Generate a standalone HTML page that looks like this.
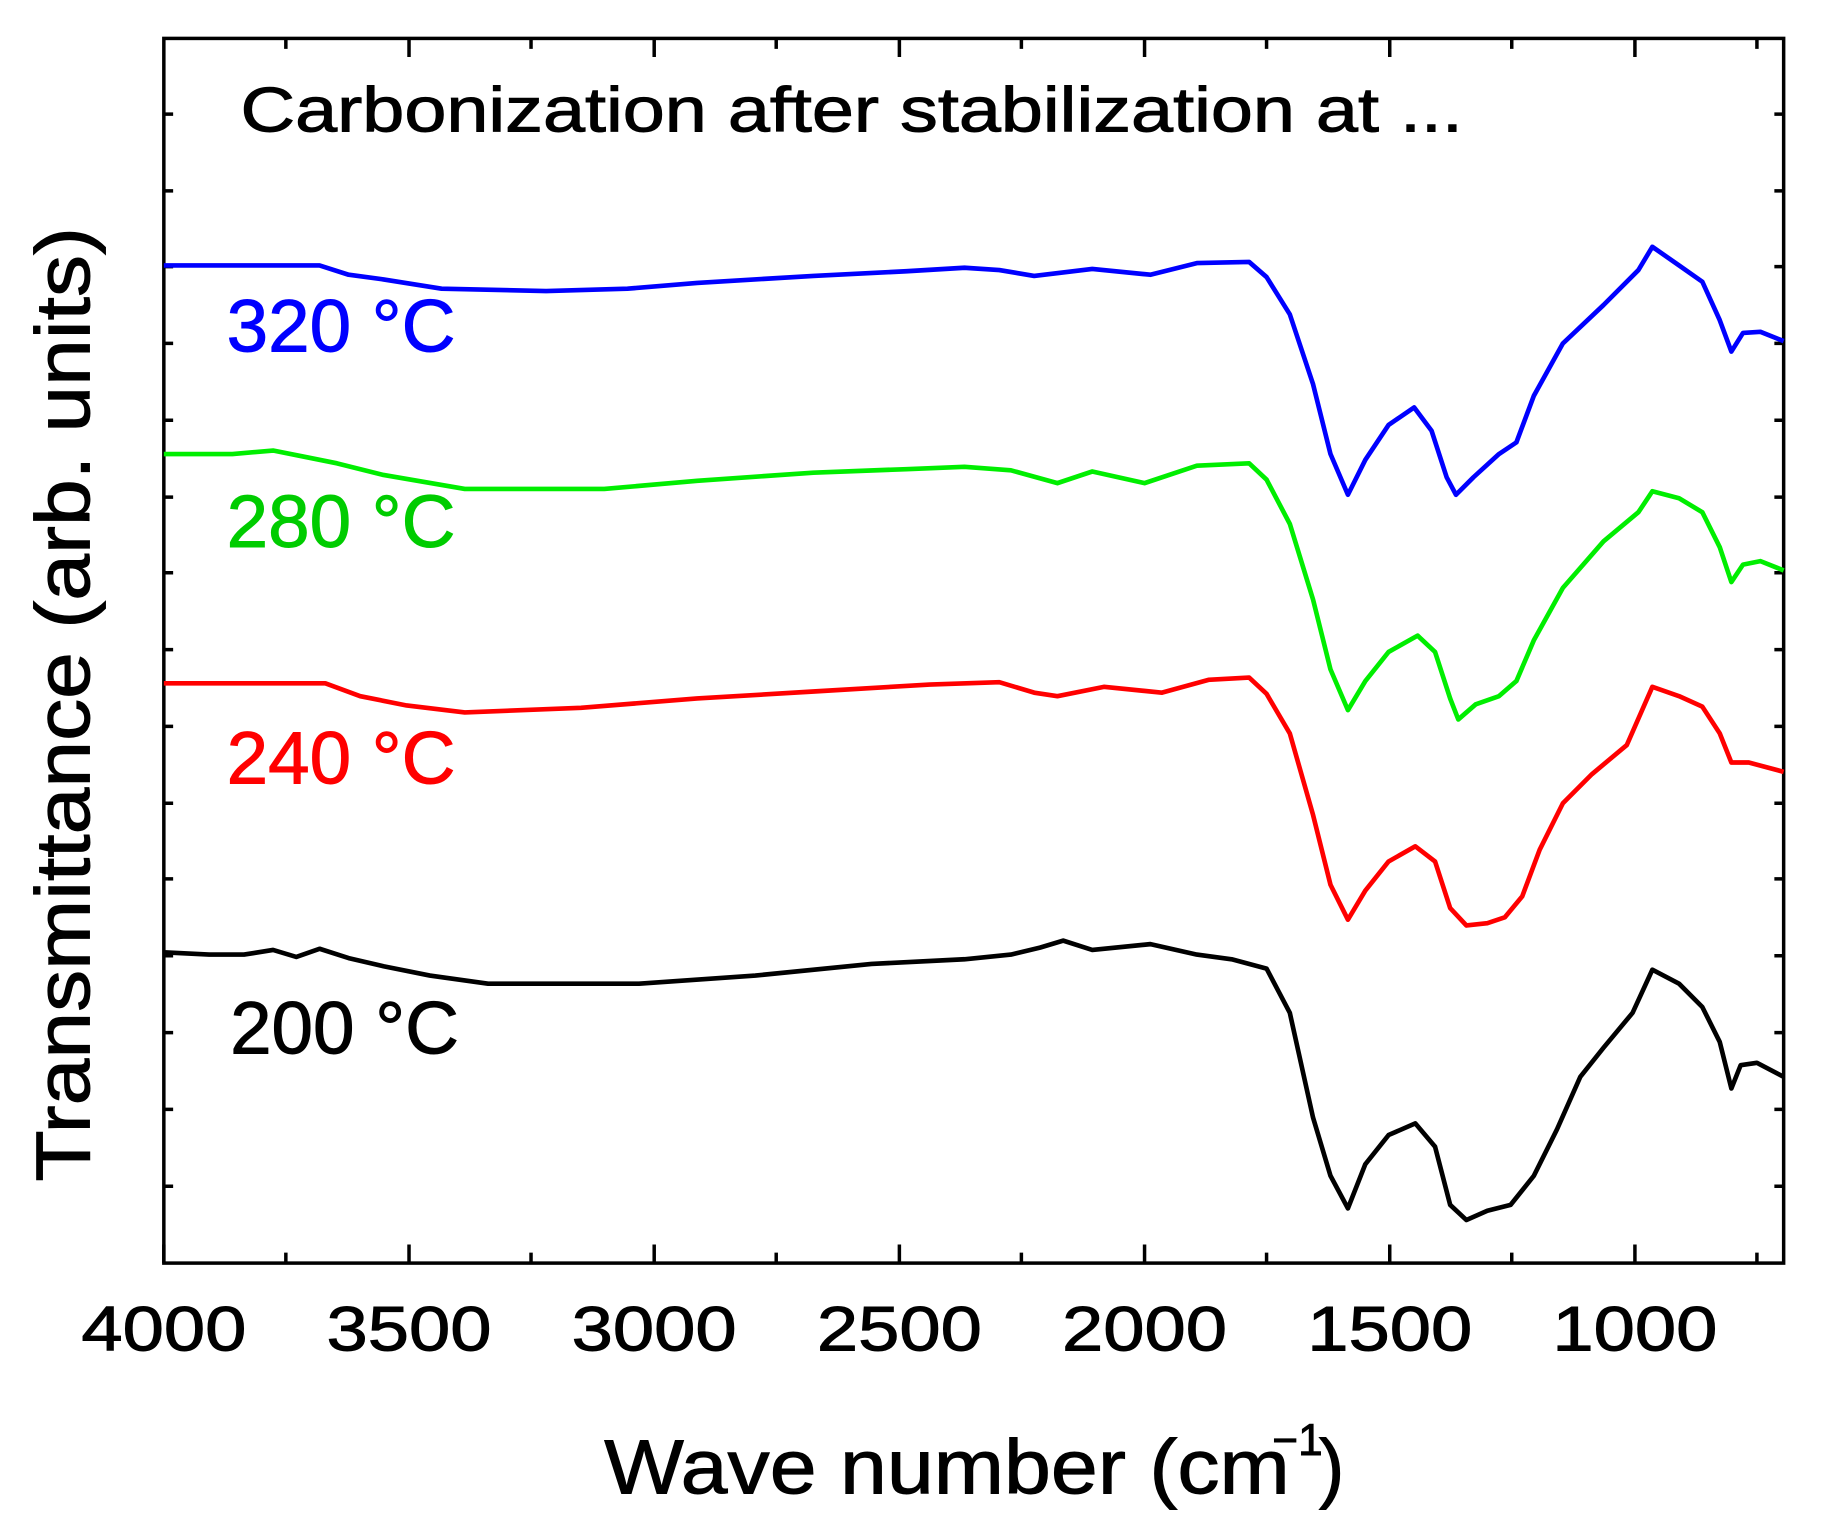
<!DOCTYPE html>
<html><head><style>html,body{margin:0;padding:0;background:#fff;width:1822px;height:1539px;overflow:hidden}</style></head>
<body>
<svg width="1822" height="1539" viewBox="0 0 1568 1322" preserveAspectRatio="none" xmlns="http://www.w3.org/2000/svg" font-family="Liberation Sans, Arial, sans-serif">
<rect width="1568" height="1322" fill="#fff"/>
<g stroke="#000" stroke-width="3" fill="none">
<rect x="141" y="33" width="1394" height="1052"/>
<path d="M141,1085v-16M352,1085v-16M563,1085v-16M774,1085v-16M985,1085v-16M1196,1085v-16M1407,1085v-16
M246,1085v-9M457,1085v-9M668,1085v-9M879,1085v-9M1090,1085v-9M1301,1085v-9M1512,1085v-9
M352,33v16M563,33v16M774,33v16M985,33v16M1196,33v16M1407,33v16
M246,33v9M457,33v9M668,33v9M879,33v9M1090,33v9M1301,33v9M1512,33v9"/>
<path d="M141,98h8M141,164h8M141,229h8M141,295h8M141,361h8M141,427h8M141,492h8M141,558h8M141,624h8M141,690h8M141,755h8M141,821h8M141,887h8M141,953h8M141,1019h8
M1535,98h-8M1535,164h-8M1535,229h-8M1535,295h-8M1535,361h-8M1535,427h-8M1535,492h-8M1535,558h-8M1535,624h-8M1535,690h-8M1535,755h-8M1535,821h-8M1535,887h-8M1535,953h-8M1535,1019h-8"/>
</g>
<g fill="none" stroke-width="4" stroke-linejoin="round">
<polyline stroke="#0000ff" points="141,228 275,228 300,236 330,240 380,248 470,250 540,248 600,243 700,237 780,233 830,230 860,232 890,237 940,231 990,236 1030,226 1075,225 1090,238 1110,270 1130,330 1145,390 1160,425 1175,395 1195,365 1217,350 1232,370 1245,410 1253,425 1268,410 1290,390 1305,380 1320,340 1345,295 1380,262 1410,232 1422,212 1445,228 1465,242 1480,275 1490,302 1500,286 1515,285 1535,293"/>
<polyline stroke="#00ee00" points="141,390 200,390 235,387 260,392 290,398 330,408 400,420 520,420 600,413 700,406 780,403 830,401 870,404 910,415 940,405 985,415 1030,400 1075,398 1090,412 1110,450 1130,515 1145,575 1160,610 1175,585 1195,560 1220,546 1235,560 1248,600 1255,618 1270,605 1290,598 1305,585 1320,550 1345,505 1380,465 1410,440 1422,422 1445,428 1465,440 1480,470 1490,500 1500,485 1515,482 1535,490"/>
<polyline stroke="#ff0000" points="141,587 280,587 310,598 350,606 400,612 500,608 600,600 700,594 800,588 860,586 890,595 910,598 950,590 1000,595 1040,584 1075,582 1090,596 1110,630 1130,700 1145,760 1160,790 1175,765 1195,740 1218,727 1235,740 1248,780 1262,795 1280,793 1295,788 1310,770 1325,730 1345,690 1370,665 1400,640 1422,590 1445,598 1465,607 1480,630 1490,655 1505,655 1535,663"/>
<polyline stroke="#000" points="141,818 180,820 210,820 235,816 255,822 275,815 300,823 330,830 370,838 420,845 550,845 650,838 750,828 830,824 870,820 895,814 915,808 940,816 990,811 1030,820 1060,824 1090,832 1110,870 1130,960 1145,1010 1160,1038 1175,1000 1195,975 1218,965 1235,985 1248,1035 1262,1048 1280,1040 1300,1035 1320,1010 1340,970 1360,925 1380,900 1405,870 1422,833 1445,845 1465,865 1480,895 1490,935 1498,915 1512,913 1535,925"/>
</g>
<g stroke-width="0.8">
<text x="207" y="113" font-size="54" stroke="#000" textLength="1052" lengthAdjust="spacingAndGlyphs">Carbonization after stabilization at ...</text>
<text x="195" y="302" font-size="64" fill="#0000ff" stroke="#0000ff" textLength="197" lengthAdjust="spacingAndGlyphs">320 °C</text>
<text x="195" y="470" font-size="64" fill="#00cc00" stroke="#00cc00" textLength="197" lengthAdjust="spacingAndGlyphs">280 °C</text>
<text x="195" y="673" font-size="64" fill="#ff0000" stroke="#ff0000" textLength="197" lengthAdjust="spacingAndGlyphs">240 °C</text>
<text x="198" y="905" font-size="64" stroke="#000" textLength="197" lengthAdjust="spacingAndGlyphs">200 °C</text>
</g>
<g font-size="54" stroke="#000" stroke-width="0.8">
<text x="70" y="1160" textLength="142" lengthAdjust="spacingAndGlyphs">4000</text>
<text x="281" y="1160" textLength="142" lengthAdjust="spacingAndGlyphs">3500</text>
<text x="492" y="1160" textLength="142" lengthAdjust="spacingAndGlyphs">3000</text>
<text x="703" y="1160" textLength="142" lengthAdjust="spacingAndGlyphs">2500</text>
<text x="914" y="1160" textLength="142" lengthAdjust="spacingAndGlyphs">2000</text>
<text x="1125" y="1160" textLength="142" lengthAdjust="spacingAndGlyphs">1500</text>
<text x="1336" y="1160" textLength="142" lengthAdjust="spacingAndGlyphs">1000</text>
</g>
<g stroke="#000" stroke-width="0.8">
<text x="520" y="1283" font-size="66" textLength="590" lengthAdjust="spacingAndGlyphs">Wave number (cm</text>
<text x="1095" y="1250" font-size="38">−1</text>
<text x="1135" y="1283" font-size="66">)</text>
<text transform="translate(77,605) rotate(-90)" font-size="66" text-anchor="middle" textLength="820" lengthAdjust="spacingAndGlyphs">Transmittance (arb. units)</text>
</g>
</svg>
</body></html>
